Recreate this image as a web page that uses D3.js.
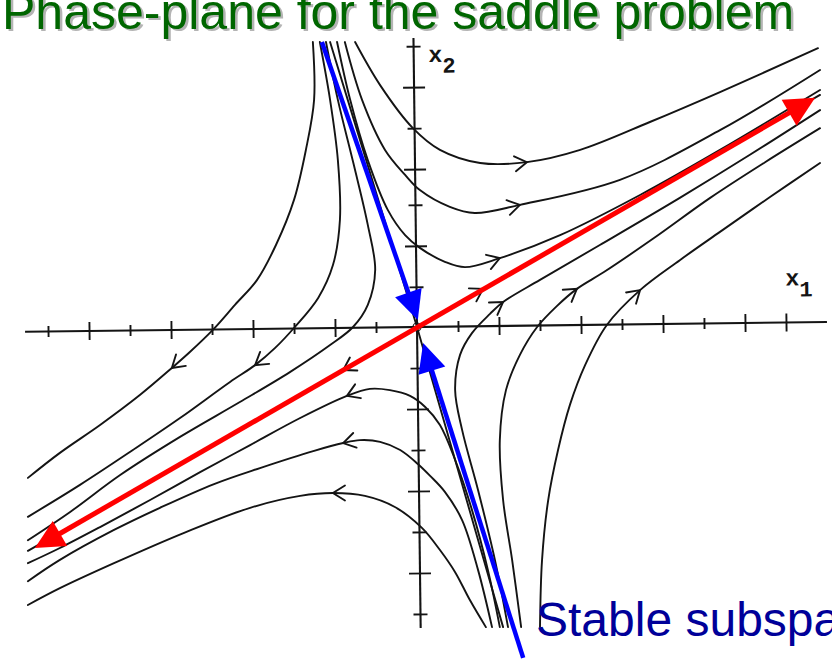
<!DOCTYPE html>
<html>
<head>
<meta charset="utf-8">
<script src="https://cdn.jsdelivr.net/npm/d3@7"></script>
<style>
  html, body { margin: 0; padding: 0; background: #fff; overflow: hidden; }
  svg { display: block; }
</style>
</head>
<body>
<svg id="chart" width="832" height="659"></svg>
<script>
// ---- axis ticks (axis units, one tick = 1) ----
const xTicksLong  = [-8, -6, -4, -2, 2, 4, 6, 8, 9];
const xTicksShort = [-9, -7, -5, -3, -1, 1, 3, 5, 7];
const yTicksLong  = [-6, -4, -2, 1.98, 3.85, 5.85];
const yTicksShort = [-7, -5, -3, -1, 0.98, 2.98, 4.85, 6.85];
const xAxisExtent = [-9.56, 10.0];
const yAxisExtent = [-7.34, 7.05];

// ---- trajectories, listed in the direction of motion ----
// upper-left sector: in along the stable direction, out to the lower left
const trajUL1 = [[-2.54,6.95],[-2.51,5.54],[-2.71,4.32],[-3.00,3.10],[-3.44,2.00],[-3.90,1.15],[-4.44,0.54],[-4.98,-0.07],[-5.54,-0.61],[-5.98,-1.00],[-6.76,-1.66],[-7.73,-2.39],[-8.71,-3.07],[-9.49,-3.68]];
const trajUL2 = [[-2.37,6.95],[-2.12,5.54],[-1.93,4.07],[-1.88,2.61],[-2.05,1.51],[-2.41,0.71],[-2.98,0.00],[-3.46,-0.51],[-3.95,-0.93],[-4.56,-1.34],[-5.78,-2.22],[-6.93,-3.00],[-8.22,-3.85],[-9.49,-4.63]];
const trajUL3 = [[-2.22,6.95],[-1.93,5.54],[-1.54,3.95],[-1.20,2.49],[-1.02,1.39],[-1.20,0.54],[-1.56,0.00],[-2.12,-0.44],[-3.10,-1.10],[-4.32,-1.83],[-5.78,-2.68],[-7.24,-3.61],[-8.46,-4.51],[-9.49,-5.20]];
// upper-right sector
const trajUR1 = [[-1.51,6.95],[-0.90,5.90],[-0.10,4.85],[0.56,4.32],[1.54,4.00],[2.68,4.02],[3.98,4.32],[5.68,5.00],[7.39,5.73],[9.78,6.80]];
const trajUR2 = [[-1.76,6.95],[-1.34,5.54],[-0.78,4.32],[-0.29,3.71],[0.07,3.34],[0.80,2.93],[1.41,2.78],[2.51,2.98],[4.95,3.59],[7.39,4.80],[9.83,6.27]];
const trajUR3 = [[-1.95,6.95],[-1.63,5.54],[-1.20,4.07],[-0.71,2.85],[-0.29,2.24],[0.07,1.93],[0.68,1.59],[1.17,1.46],[2.02,1.68],[3.49,2.24],[5.44,3.22],[7.39,4.32],[9.83,5.78]];
// lower-right sector
const trajLR1 = [[2.22,-7.32],[1.90,-5.68],[1.49,-3.98],[1.10,-2.51],[0.93,-1.54],[1.05,-0.68],[1.34,-0.15],[1.78,0.32],[2.10,0.61],[3.00,1.15],[4.46,2.00],[6.41,3.15],[8.12,4.20],[9.83,5.29]];
const trajLR2 = [[2.54,-7.32],[2.32,-5.68],[2.10,-4.22],[2.02,-2.76],[2.17,-1.54],[2.51,-0.68],[2.93,0.00],[3.41,0.51],[3.90,0.93],[4.56,1.34],[5.78,2.17],[7.15,3.15],[8.49,4.02],[9.83,4.85]];
const trajLR3 = [[3.00,-7.32],[3.05,-5.68],[3.20,-4.22],[3.44,-3.00],[3.73,-1.90],[4.10,-0.93],[4.63,0.05],[5.44,0.90],[6.41,1.63],[7.39,2.32],[8.61,3.17],[9.83,4.00]];
// lower-left sector
const trajLL1 = [[2.02,-7.32],[1.73,-5.93],[1.34,-4.46],[0.93,-3.24],[0.56,-2.39],[0.20,-1.95],[-0.17,-1.68],[-0.66,-1.54],[-1.15,-1.51],[-1.71,-1.68],[-2.85,-2.22],[-4.07,-2.88],[-5.29,-3.54],[-6.51,-4.22],[-7.73,-4.88],[-8.71,-5.39],[-9.49,-5.76]];
const trajLL2 = [[1.83,-7.32],[1.49,-5.93],[1.10,-4.71],[0.68,-4.02],[0.32,-3.63],[0.02,-3.34],[-0.41,-3.00],[-0.90,-2.80],[-1.39,-2.76],[-1.80,-2.83],[-2.51,-3.02],[-3.83,-3.44],[-4.95,-3.83],[-6.27,-4.41],[-7.39,-4.95],[-8.71,-5.68],[-9.49,-6.20]];
const trajLL3 = [[1.68,-7.32],[1.29,-6.66],[0.93,-5.98],[0.56,-5.44],[0.12,-4.90],[-0.54,-4.39],[-1.27,-4.12],[-2.05,-4.05],[-2.85,-4.12],[-4.07,-4.41],[-5.68,-5.02],[-7.39,-5.76],[-8.71,-6.37],[-9.49,-6.78]];
// straight-line solutions along the eigen-directions
const eigenOutRight = [[0,0],[1.61,0.93],[9.83,5.66]];
const eigenOutLeft  = [[0,0],[-1.80,-1.05],[-9.49,-5.46]];
const eigenInTop    = [[-2.12,6.95],[-1.06,3.48],[0,0]];
const eigenInBottom = [[2.10,-7.32],[1.05,-3.66],[0,0]];

const trajectories = [
  { pts: trajUL1, arrow: 9 }, { pts: trajUL2, arrow: 8 }, { pts: trajUL3, arrow: null },
  { pts: trajUR1, arrow: 5 }, { pts: trajUR2, arrow: 7 }, { pts: trajUR3, arrow: 8 },
  { pts: trajLR1, arrow: 8 }, { pts: trajLR2, arrow: 8 }, { pts: trajLR3, arrow: 7 },
  { pts: trajLL1, arrow: 9 }, { pts: trajLL2, arrow: 9 }, { pts: trajLL3, arrow: 7 },
  { pts: eigenOutRight, arrow: 1 }, { pts: eigenOutLeft, arrow: 1 },
  { pts: eigenInTop, arrow: null }, { pts: eigenInBottom, arrow: null }
];

// ---- highlighted subspaces ----
const unstableTips = [[-9.32, -5.39], [9.71, 5.59]];
const stableUpper  = [[-2.32, 6.95], [0.02, 0.17]];   // from -> arrow tip
const stableLower  = [[2.59, -8.07], [0.15, -0.39]];

const titleText  = "Phase-plane for the saddle problem";
const stableText = "Stable subspace";

// ---- scales ----
const x = d3.scaleLinear().domain([-10, 10]).range([7, 827]);
const y = d3.scaleLinear().domain([-8, 8]).range([655, -1]);
const ox = x(0), oy = y(0);
const ink = "#141414";
const axisTilt = -0.7;

const svg = d3.select("#chart");

// ---- axes (the printed plate sits slightly rotated) ----
const axes = svg.append("g").attr("transform", `rotate(${axisTilt},${ox},${oy})`);
axes.append("line")
  .attr("x1", x(xAxisExtent[0])).attr("x2", x(xAxisExtent[1]))
  .attr("y1", oy).attr("y2", oy)
  .attr("stroke", ink).attr("stroke-width", 2.1);
axes.append("line")
  .attr("x1", ox).attr("x2", ox)
  .attr("y1", y(yAxisExtent[1])).attr("y2", y(yAxisExtent[0]))
  .attr("stroke", ink).attr("stroke-width", 2.1);

function xTickRow(vals, len) {
  const g = axes.append("g").attr("transform", `translate(0,${oy})`)
    .call(d3.axisBottom(x).tickValues(vals).tickSize(len).tickFormat(""));
  g.select(".domain").remove();
  g.selectAll(".tick line").attr("y1", -len).attr("stroke", ink).attr("stroke-width", 1.9);
}
function yTickRow(vals, len) {
  const g = axes.append("g").attr("transform", `translate(${ox},0)`)
    .call(d3.axisLeft(y).tickValues(vals).tickSize(len).tickFormat(""));
  g.select(".domain").remove();
  g.selectAll(".tick line").attr("x1", len).attr("stroke", ink).attr("stroke-width", 1.9);
}
xTickRow(xTicksLong, 9);
xTickRow(xTicksShort, 5.5);
yTickRow(yTicksLong, 11);
yTickRow(yTicksShort, 7);

// axis names
const labelFont = "'Liberation Mono', 'DejaVu Sans Mono', monospace";
function axisName(g, ux, uy, sub) {
  const t = g.append("text").attr("x", x(ux)).attr("y", y(uy))
    .attr("font-family", labelFont).attr("font-weight", "bold")
    .attr("font-size", 23).attr("fill", ink);
  t.append("tspan").text("x");
  t.append("tspan").attr("dy", 11).attr("font-size", 22).text(sub);
}
axisName(axes, 9.0, 0.9, "1");
axisName(axes, 0.36, 6.46, "2");

// ---- phase trajectories ----
const line = d3.line().x(d => x(d[0])).y(d => y(d[1])).curve(d3.curveCatmullRom.alpha(0.5));
const curves = svg.append("g").attr("fill", "none").attr("stroke", ink)
  .attr("stroke-width", 1.9).attr("stroke-linecap", "round");
curves.selectAll("path.traj").data(trajectories).join("path")
  .attr("class", "traj").attr("d", d => line(d.pts));

// direction chevrons
const chevrons = trajectories.filter(d => d.arrow !== null).map(d => {
  const p = d.pts[d.arrow], a = d.pts[d.arrow - 1], b = d.pts[d.arrow + 1];
  const ang = Math.atan2(y(b[1]) - y(a[1]), x(b[0]) - x(a[0])) * 180 / Math.PI;
  return { px: x(p[0]), py: y(p[1]), ang };
});
curves.selectAll("path.chev").data(chevrons).join("path")
  .attr("class", "chev")
  .attr("d", "M-12,-7.5L0,0L-12,7.5")
  .attr("transform", d => `translate(${d.px},${d.py}) rotate(${d.ang})`);

curves.append("circle").attr("cx", ox).attr("cy", oy).attr("r", 4).attr("stroke-width", 1.2);

// ---- subspace arrows ----
function arrowHead(g, tip, from, len, half, color) {
  const tx = x(tip[0]), ty = y(tip[1]);
  const ang = Math.atan2(ty - y(from[1]), tx - x(from[0])) * 180 / Math.PI;
  g.append("path").attr("d", `M0,0L${-len},${-half}L${-len},${half}Z`)
    .attr("transform", `translate(${tx},${ty}) rotate(${ang})`).attr("fill", color);
}
function shortened(from, to, cut) {
  const fx = x(from[0]), fy = y(from[1]), tx = x(to[0]), ty = y(to[1]);
  const L = Math.hypot(tx - fx, ty - fy);
  return [tx - (tx - fx) * cut / L, ty - (ty - fy) * cut / L];
}

const blue = "#0000ff", red = "#ff0000";
const over = svg.append("g");
[stableUpper, stableLower].forEach(seg => {
  const end = shortened(seg[0], seg[1], 20);
  over.append("line").attr("x1", x(seg[0][0])).attr("y1", y(seg[0][1]))
    .attr("x2", end[0]).attr("y2", end[1])
    .attr("stroke", blue).attr("stroke-width", 4.5);
  arrowHead(over, seg[1], seg[0], 29, 14, blue);
});

const r0 = shortened(unstableTips[1], unstableTips[0], 20);
const r1 = shortened(unstableTips[0], unstableTips[1], 20);
over.append("line").attr("x1", r0[0]).attr("y1", r0[1]).attr("x2", r1[0]).attr("y2", r1[1])
  .attr("stroke", red).attr("stroke-width", 5);
arrowHead(over, unstableTips[0], unstableTips[1], 29, 14.5, red);
arrowHead(over, unstableTips[1], unstableTips[0], 30, 15, red);

// ---- captions ----
const capFont = "'Liberation Sans', Arial, sans-serif";
svg.append("text").attr("x", 4.5).attr("y", 31).text(titleText)
  .attr("font-family", capFont).attr("font-size", 50).attr("fill", "#b4b4b4");
svg.append("text").attr("x", 2).attr("y", 29).text(titleText)
  .attr("font-family", capFont).attr("font-size", 50).attr("fill", "#006600");
svg.append("text").attr("x", 536).attr("y", 636).text(stableText)
  .attr("font-family", capFont).attr("font-size", 48).attr("fill", "#000099");
</script>
</body>
</html>
